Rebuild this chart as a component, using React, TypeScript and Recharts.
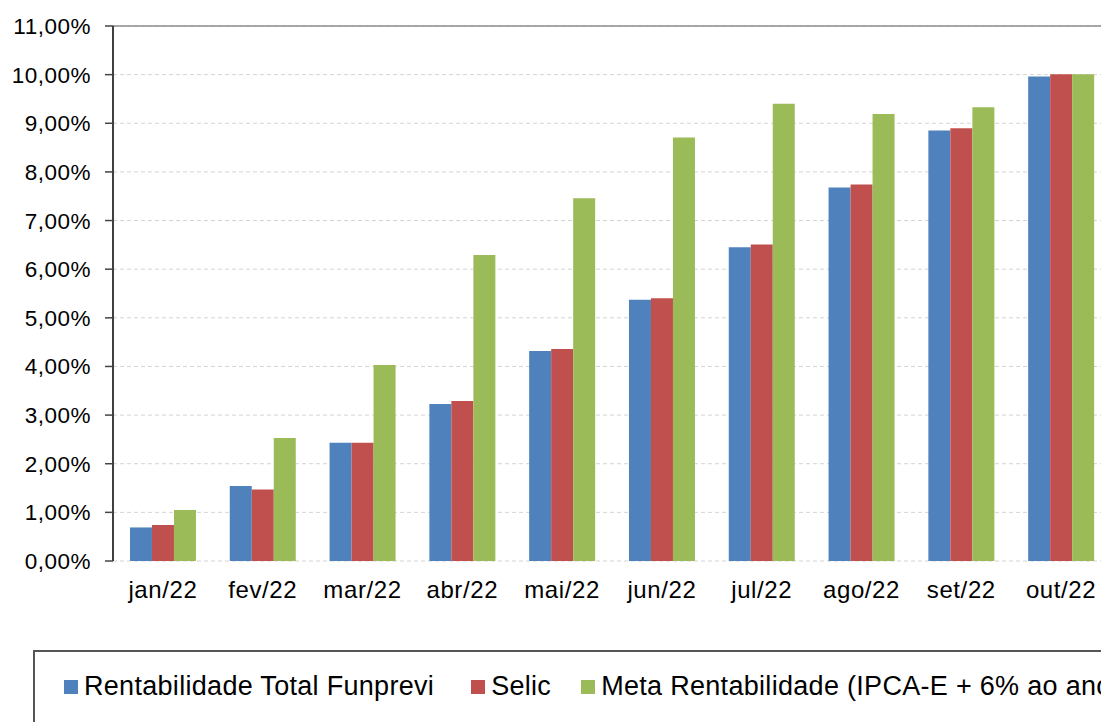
import React from "react";
import {
  BarChart,
  Bar,
  XAxis,
  YAxis,
  CartesianGrid,
  ReferenceLine,
} from "recharts";

const months = [
  "jan/22",
  "fev/22",
  "mar/22",
  "abr/22",
  "mai/22",
  "jun/22",
  "jul/22",
  "ago/22",
  "set/22",
  "out/22",
];
const funprevi = [0.69, 1.54, 2.43, 3.23, 4.32, 5.37, 6.45, 7.68, 8.85, 9.96];
const selic = [0.74, 1.47, 2.43, 3.29, 4.36, 5.4, 6.51, 7.74, 8.9, 10.01];
const meta = [1.05, 2.53, 4.03, 6.29, 7.46, 8.71, 9.4, 9.19, 9.33, 10.01];
const yTicks = [0, 1, 2, 3, 4, 5, 6, 7, 8, 9, 10, 11];
const boundaryTicks = [0, 1, 2, 3, 4, 5, 6, 7, 8, 9, 10];

const series = [
  { key: "funprevi", name: "Rentabilidade Total Funprevi", color: "#4F81BD", gap: 37 },
  { key: "selic", name: "Selic", color: "#C0504D", gap: 30 },
  { key: "meta", name: "Meta Rentabilidade (IPCA-E + 6% ao ano)", color: "#9BBB59", gap: 0 },
];

const data = months.map((m, i) => ({
  month: m,
  funprevi: funprevi[i],
  selic: selic[i],
  meta: meta[i],
}));

const font = "'Liberation Sans', Arial, sans-serif";

const fmtPct = (v: number) => v.toFixed(2).replace(".", ",") + "%";

const App = () => {
  return (
    <div
      style={{
        position: "absolute",
        left: 0,
        top: 0,
        width: 1101,
        height: 722,
        overflow: "hidden",
        background: "#fff",
        fontFamily: font,
      }}
    >
      <BarChart
        width={1130}
        height={640}
        data={data}
        margin={{ top: 26, right: 19, left: 0, bottom: 0 }}
        barCategoryGap="17%"
        barGap={0}
      >
        <CartesianGrid
          vertical={false}
          stroke="#d4d4d4"
          strokeDasharray="4 3"
        />
        <ReferenceLine y={11} stroke="#8c8c8c" strokeWidth={1.5} />
        <XAxis
          xAxisId="edges"
          type="number"
          dataKey={() => 0}
          domain={[0, 10]}
          ticks={boundaryTicks}
          allowDataOverflow
          height={0}
          tick={false}
          tickSize={7}
          tickLine={{ stroke: "#8c8c8c", strokeWidth: 1.5 }}
          axisLine={{ stroke: "#8c8c8c", strokeWidth: 1.5 }}
        />
        <XAxis
          dataKey="month"
          height={79}
          axisLine={false}
          tickLine={false}
          tickSize={0}
          tickMargin={20}
          tick={{
            fill: "#000",
            fontSize: 24,
            fontFamily: font,
            letterSpacing: 0.6,
          }}
          interval={0}
        />
        <YAxis
          width={113}
          domain={[0, 11]}
          ticks={yTicks}
          interval={0}
          tickFormatter={fmtPct}
          tickSize={8}
          tickMargin={14}
          tickLine={{ stroke: "#444", strokeWidth: 1.5 }}
          axisLine={{ stroke: "#000", strokeWidth: 1.5 }}
          tick={{
            fill: "#000",
            fontSize: 22.5,
            fontFamily: font,
            letterSpacing: 0.5,
          }}
        />
        {series.map((s) => (
          <Bar
            key={s.key}
            dataKey={s.key}
            name={s.name}
            fill={s.color}
            isAnimationActive={false}
          />
        ))}
      </BarChart>
      <div
        style={{
          position: "absolute",
          left: 33,
          top: 650,
          width: 1200,
          height: 120,
          border: "2px solid #555",
          boxSizing: "border-box",
        }}
      >
        <div
          style={{
            position: "absolute",
            left: 29,
            top: 19,
            display: "flex",
            alignItems: "center",
            whiteSpace: "nowrap",
            fontSize: 27,
            letterSpacing: 0.3,
            color: "#000",
          }}
        >
          {series.map((s) => (
            <div
              key={s.key}
              style={{ display: "flex", alignItems: "center", marginRight: s.gap }}
            >
              <span
                style={{
                  display: "block",
                  width: 14,
                  height: 14,
                  background: s.color,
                  marginRight: 6,
                }}
              />
              <span>{s.name}</span>
            </div>
          ))}
        </div>
      </div>
    </div>
  );
};

export default App;
